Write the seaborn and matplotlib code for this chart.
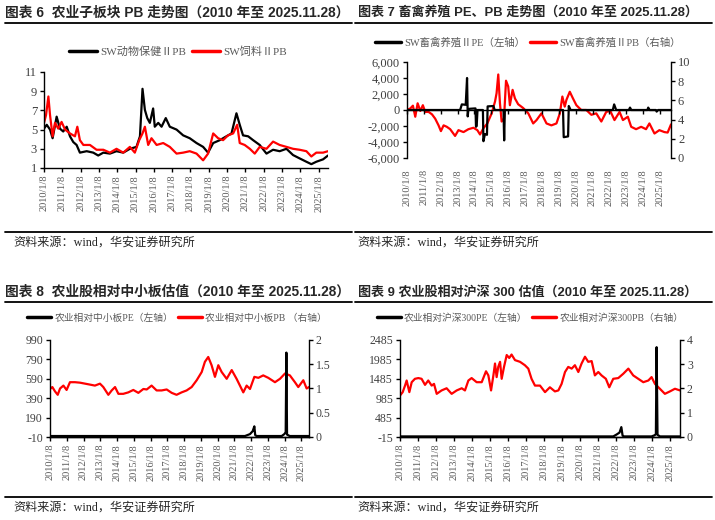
import matplotlib
matplotlib.use("Agg")
import matplotlib.pyplot as plt
from matplotlib.lines import Line2D
from matplotlib.ticker import FuncFormatter
import seaborn as sns

# ---- 数据（按图读取，x 为年份小数）----
years = list(range(2010, 2026))
year_labels = [f"{y}/1/8" for y in years]

# 图表6：SW动物保健II PB / SW饲料II PB
health_year = [2010.00, 2010.15, 2010.33, 2010.47, 2010.69, 2010.87, 2011.05, 2011.24, 2011.42, 2011.60,
               2011.78, 2011.96, 2012.33, 2012.69, 2012.96, 2013.24, 2013.60, 2013.96, 2014.33, 2014.69,
               2015.05, 2015.24, 2015.38, 2015.51, 2015.64, 2015.78, 2015.96, 2016.05, 2016.24, 2016.42,
               2016.65, 2016.87, 2017.24, 2017.60, 2017.96, 2018.33, 2018.69, 2018.96, 2019.24, 2019.60,
               2019.96, 2020.24, 2020.51, 2020.69, 2020.87, 2021.15, 2021.42, 2021.78, 2022.15, 2022.51,
               2022.87, 2023.24, 2023.60, 2023.96, 2024.33, 2024.60, 2024.87, 2025.24, 2025.51]
health_pb = [5.1, 5.5, 5.0, 4.1, 6.35, 5.1, 4.8, 5.3, 4.3, 3.7,
             3.4, 2.6, 2.75, 2.6, 2.3, 2.6, 2.5, 2.75, 2.6, 3.0,
             3.2, 4.3, 9.25, 7.05, 6.2, 5.7, 7.2, 5.3, 5.7, 5.3,
             6.2, 5.3, 5.0, 4.4, 4.1, 3.6, 3.2, 2.6, 3.6, 3.9,
             4.3, 4.6, 6.7, 5.5, 4.4, 4.3, 3.9, 3.4, 2.5, 2.9,
             2.75, 3.0, 2.35, 2.0, 1.65, 1.4, 1.65, 1.9, 2.3]
feed_year = [2010.00, 2010.11, 2010.24, 2010.33, 2010.47, 2010.60, 2010.78, 2010.96, 2011.15, 2011.42,
             2011.69, 2011.82, 2011.96, 2012.15, 2012.51, 2012.87, 2013.24, 2013.60, 2013.96, 2014.33,
             2014.69, 2014.96, 2015.20, 2015.38, 2015.51, 2015.69, 2015.87, 2016.15, 2016.51, 2016.87,
             2017.24, 2017.60, 2017.96, 2018.33, 2018.69, 2018.96, 2019.24, 2019.51, 2019.78, 2020.05,
             2020.33, 2020.55, 2020.69, 2020.96, 2021.24, 2021.51, 2021.78, 2022.15, 2022.51, 2022.87,
             2023.24, 2023.60, 2023.96, 2024.33, 2024.60, 2024.87, 2025.24, 2025.51]
feed_pb = [5.7, 6.5, 8.45, 6.5, 4.3, 5.7, 5.1, 5.8, 5.0, 4.6,
           4.3, 5.3, 3.9, 3.4, 3.4, 2.9, 2.9, 2.6, 3.0, 2.6,
           3.2, 2.6, 3.9, 4.6, 5.3, 3.4, 4.1, 3.4, 3.6, 3.2,
           2.5, 2.6, 2.75, 2.5, 1.8, 2.5, 4.6, 4.1, 3.9, 4.4,
           4.6, 5.5, 3.6, 3.4, 3.0, 2.5, 3.2, 3.0, 3.75, 3.4,
           3.2, 3.0, 2.9, 2.75, 2.2, 2.6, 2.6, 2.75]

# 图表7：SW畜禽养殖II PE（左轴）/ PB（右轴）
breed_pe_year = [2010.00, 2013.15, 2013.25, 2013.48, 2013.56, 2013.60, 2013.64, 2013.70, 2014.06, 2014.09,
                 2014.13, 2014.18, 2014.50, 2014.53, 2014.62, 2014.74, 2014.78, 2015.12, 2015.20, 2015.72,
                 2015.76, 2015.80, 2019.25, 2019.29, 2019.55, 2019.59, 2019.70, 2022.20, 2022.28, 2022.40,
                 2023.15, 2023.22, 2023.30, 2024.25, 2024.30, 2024.38, 2024.75, 2024.80, 2024.88, 2025.65]
breed_pe = [0, 0, 700, 650, 4000, -800, 100, 150, 200, -2100,
            -2000, 0, 0, -3900, -3000, -3100, 450, 500, 0, 0,
            -3800, 0, 0, -3400, -3300, 500, 0, 0, 700, 0,
            0, 300, 0, 0, 300, 0, 0, -200, 0, 0]
breed_pb_year = [2010.00, 2010.20, 2010.35, 2010.49, 2010.63, 2010.79, 2010.94, 2011.08, 2011.28, 2011.48,
                 2011.67, 2011.87, 2012.01, 2012.17, 2012.36, 2012.56, 2012.85, 2013.05, 2013.35, 2013.64,
                 2013.94, 2014.17, 2014.33, 2014.53, 2014.76, 2015.02, 2015.22, 2015.31, 2015.41, 2015.51,
                 2015.61, 2015.75, 2015.87, 2016.00, 2016.10, 2016.26, 2016.40, 2016.59, 2016.89, 2017.19,
                 2017.48, 2017.68, 2017.97, 2018.27, 2018.56, 2018.86, 2019.06, 2019.21, 2019.35, 2019.45,
                 2019.65, 2019.84, 2020.04, 2020.33, 2020.63, 2020.93, 2021.22, 2021.52, 2021.81, 2022.05,
                 2022.30, 2022.60, 2022.80, 2023.09, 2023.29, 2023.58, 2023.88, 2024.17, 2024.37, 2024.67,
                 2024.96, 2025.26, 2025.45, 2025.65]
breed_pb = [5.0, 5.17, 5.45, 4.3, 5.7, 4.9, 5.5, 4.8, 4.8, 4.55,
            4.1, 3.4, 2.8, 3.4, 3.25, 3.0, 2.3, 2.9, 2.7, 3.0,
            3.15, 2.9, 2.45, 3.1, 3.6, 4.65, 5.9, 6.75, 8.7, 5.7,
            3.8, 4.1, 8.05, 7.45, 5.5, 7.1, 6.2, 5.6, 5.2, 4.65,
            3.6, 3.95, 4.65, 3.6, 3.4, 3.6, 4.65, 6.4, 5.35, 6.05,
            6.9, 6.2, 5.5, 5.0, 5.0, 4.5, 4.65, 3.8, 4.8, 4.9,
            3.95, 4.8, 3.95, 4.3, 3.25, 3.0, 3.25, 3.0, 3.6, 2.55,
            2.9, 2.7, 2.65, 3.5]

# 图表8：农业相对中小板 PE（左轴）/ PB（右轴）
sme_pe_year = [2010.00, 2021.63, 2021.93, 2022.09, 2022.19, 2022.24, 2022.32,
               2023.82, 2023.98, 2024.06, 2024.10, 2024.14, 2024.30, 2025.45]
sme_pe = [0, 0, 20, 50, 100, 10, 0, 0, 20, 40, 860, 15, 0, 0]
sme_pb_year = [2010.00, 2010.14, 2010.30, 2010.46, 2010.60, 2010.80, 2010.99, 2011.19, 2011.49, 2011.79,
               2012.09, 2012.39, 2012.68, 2012.98, 2013.18, 2013.48, 2013.68, 2013.88, 2014.08, 2014.37,
               2014.67, 2014.97, 2015.27, 2015.57, 2015.77, 2016.06, 2016.36, 2016.66, 2016.96, 2017.26,
               2017.55, 2017.85, 2018.15, 2018.45, 2018.75, 2019.05, 2019.24, 2019.44, 2019.64, 2019.84,
               2020.04, 2020.24, 2020.54, 2020.84, 2021.13, 2021.33, 2021.53, 2021.73, 2021.93, 2022.19,
               2022.43, 2022.72, 2023.02, 2023.42, 2023.72, 2024.02, 2024.31, 2024.61, 2024.81, 2025.11,
               2025.31, 2025.45]
sme_pb = [0.99, 1.03, 0.94, 0.87, 1.0, 1.06, 0.97, 1.13, 1.13, 1.12,
          1.1, 1.08, 1.06, 1.1, 1.03, 0.87, 0.96, 1.03, 0.89, 0.89,
          0.92, 0.97, 0.91, 0.99, 0.98, 1.06, 0.96, 0.96, 0.98, 0.91,
          0.87, 0.92, 0.96, 1.03, 1.17, 1.34, 1.55, 1.65, 1.48, 1.24,
          1.48, 1.34, 1.2, 1.38, 1.2, 1.06, 0.92, 1.06, 0.99, 1.24,
          1.22, 1.27, 1.22, 1.13, 1.2, 1.31, 1.27, 1.13, 1.03, 1.17,
          1.0, 1.03]

# 图表9：农业相对沪深300 PE（左轴）/ PB（右轴）
hs_pe_year = [2010.00, 2021.85, 2022.04, 2022.20, 2022.30, 2022.37, 2022.45,
              2023.98, 2024.15, 2024.22, 2024.26, 2024.31, 2024.45, 2025.56]
hs_pe = [0, 0, 50, 100, 240, 20, 0, 0, 30, 60, 2300, 40, 0, 0]
hs_pb_year = [2010.00, 2010.15, 2010.28, 2010.37, 2010.52, 2010.65, 2010.83, 2011.02, 2011.20, 2011.39,
              2011.57, 2011.76, 2011.89, 2012.04, 2012.31, 2012.59, 2012.87, 2013.15, 2013.43, 2013.61,
              2013.80, 2013.98, 2014.26, 2014.54, 2014.78, 2014.91, 2015.06, 2015.19, 2015.28, 2015.37,
              2015.46, 2015.56, 2015.65, 2015.78, 2015.93, 2016.07, 2016.20, 2016.39, 2016.67, 2016.94,
              2017.13, 2017.31, 2017.50, 2017.78, 2018.06, 2018.33, 2018.61, 2018.80, 2018.98, 2019.17,
              2019.35, 2019.54, 2019.72, 2019.91, 2020.09, 2020.28, 2020.46, 2020.65, 2020.83, 2021.02,
              2021.20, 2021.44, 2021.63, 2021.85, 2022.13, 2022.41, 2022.69, 2022.96, 2023.24, 2023.52,
              2023.80, 2023.98, 2024.17, 2024.44, 2024.72, 2025.00, 2025.28, 2025.56]
hs_pb = [1.71, 1.85, 2.12, 2.33, 1.85, 2.26, 2.4, 2.43, 2.4, 2.15,
         2.33, 2.12, 2.19, 1.78, 1.92, 2.01, 1.78, 1.92, 2.01, 1.92,
         2.33, 2.43, 2.26, 2.26, 2.71, 2.54, 1.92, 2.54, 3.03, 2.47,
         2.89, 3.1, 2.4, 2.89, 3.38, 3.26, 3.4, 3.17, 3.1, 2.96,
         2.82, 2.4, 2.12, 2.12, 1.85, 2.05, 1.88, 1.92, 2.19, 2.68,
         2.89, 2.82, 2.96, 2.68, 3.03, 3.31, 3.1, 3.13, 2.54, 2.68,
         2.54, 2.4, 2.05, 2.4, 2.43, 2.61, 2.82, 2.54, 2.4, 2.26,
         2.33, 2.47, 2.19, 1.99, 1.78, 1.88, 1.99, 1.92]

RED = "#FF0000"
SERIF = ["Liberation Serif", "Noto Sans CJK SC"]
BOLD = ["Liberation Sans", "Noto Sans CJK SC"]

sns.set_style("ticks")
plt.rcParams["font.family"] = SERIF
plt.rcParams["axes.unicode_minus"] = False

W, H = 715, 520
fig = plt.figure(figsize=(W / 100, H / 100), dpi=100)


def px_axes(l, t, r, b):
    return fig.add_axes([l / W, 1 - b / H, (r - l) / W, (b - t) / H])


def hline(x0, x1, y, lw=1.3):
    fig.add_artist(Line2D([x0 / W, x1 / W], [1 - y / H, 1 - y / H], color="black",
                          lw=lw, transform=fig.transFigure))


def header(x, y, text, size=9.9):
    fig.text(x / W, 1 - y / H, text, fontsize=size, fontweight="bold",
             family=BOLD, va="center", ha="left")


def source(x, y):
    fig.text(x / W, 1 - y / H, "资料来源：wind，华安证券研究所", fontsize=8.7,
             family=SERIF, va="center", ha="left")


def line(ax, x, y, color):
    sns.lineplot(x=x, y=y, ax=ax, color=color, lw=1.6, sort=False, estimator=None)


def style_axis(ax, size):
    ax.tick_params(axis="both", direction="out", length=3, width=1, color="black")
    ax.tick_params(axis="y", labelsize=size, labelcolor="#404040", pad=2)
    for s in ax.spines.values():
        s.set_linewidth(1)
        s.set_color("black")


def date_ticks(ax, xmax, pad=2):
    ax.set_xlim(2010, xmax)
    ax.set_xticks(years)
    ax.set_xticklabels(year_labels, rotation=90, fontsize=7.5, color="#595959")
    ax.tick_params(axis="x", pad=pad)
    ax.set_xlabel("")
    ax.set_ylabel("")


def make_legend(ax, labels, cx, cy, size):
    handles = [Line2D([], [], color="black", lw=2.5), Line2D([], [], color=RED, lw=2.5)]
    ax.legend(handles, labels, loc="center", bbox_to_anchor=(cx / W, 1 - cy / H),
              bbox_transform=fig.transFigure, ncol=2, frameon=False, fontsize=size,
              handlelength=2.5, handletextpad=0.3, columnspacing=0.5, labelcolor="#595959")


# ---- 图表6 ----
header(5, 12.5, "图表 6  农业子板块 PB 走势图（2010 年至 2025.11.28）")
hline(5, 352, 23)
ax1 = px_axes(44, 72, 328, 168)
line(ax1, health_year, health_pb, "black")
line(ax1, feed_year, feed_pb, RED)
ax1.set_ylim(1, 11)
ax1.set_yticks([1, 3, 5, 7, 9, 11])
sns.despine(ax=ax1)
style_axis(ax1, 9)
date_ticks(ax1, 2025.51)
make_legend(ax1, ["SW动物保健ⅡPB", "SW饲料ⅡPB"], 178, 52, 8)
hline(5, 352, 232)
source(13, 243)

# ---- 图表7 ----
header(358, 12.5, "图表 7 畜禽养殖 PE、PB 走势图（2010 年至 2025.11.28）", 9.4)
hline(355, 712, 23)
ax2 = px_axes(407, 62, 671, 158)
ax2r = ax2.twinx()
line(ax2r, breed_pb_year, breed_pb, RED)
line(ax2, breed_pe_year, breed_pe, "black")
ax2.set_zorder(ax2r.get_zorder() + 1)
ax2.patch.set_visible(False)
ax2.set_ylim(-6000, 6000)
ax2.set_yticks(range(-6000, 6001, 2000))
ax2.yaxis.set_major_formatter(FuncFormatter(lambda v, p: f"{v:,.0f}"))
ax2r.set_ylim(0, 10)
ax2r.set_yticks(range(0, 11, 2))
for a in (ax2, ax2r):
    a.spines["top"].set_visible(False)
ax2.spines["right"].set_visible(False)
ax2r.spines["left"].set_visible(False)
ax2r.spines["bottom"].set_visible(False)
ax2.spines["bottom"].set_position(("data", 0))
style_axis(ax2, 9)
style_axis(ax2r, 9)
ax2r.set_ylabel("")
date_ticks(ax2, 2025.65)
ax2.tick_params(axis="x", labelbottom=False)
sec2 = ax2.secondary_xaxis("bottom")
sec2.set_xticks(years)
sec2.set_xticklabels(year_labels, rotation=90, fontsize=7.5, color="#595959")
sec2.tick_params(axis="x", length=0, pad=8)
sec2.spines["bottom"].set_visible(False)
make_legend(ax2, ["SW畜禽养殖ⅡPE（左轴）", "SW畜禽养殖ⅡPB（右轴）"], 528, 42, 7.5)
hline(355, 712, 232)
source(357, 243)

# ---- 图表8 ----
header(5, 292, "图表 8  农业股相对中小板估值（2010 年至 2025.11.28）")
hline(5, 352, 302)
ax3 = px_axes(50, 340, 309, 437)
ax3r = ax3.twinx()
line(ax3r, sme_pb_year, sme_pb, RED)
line(ax3, sme_pe_year, sme_pe, "black")
ax3.set_zorder(ax3r.get_zorder() + 1)
ax3.patch.set_visible(False)
ax3.set_ylim(-10, 990)
ax3.set_yticks([-10, 190, 390, 590, 790, 990])
ax3r.set_ylim(0, 2)
ax3r.set_yticks([0, 0.5, 1, 1.5, 2])
ax3r.yaxis.set_major_formatter(FuncFormatter(lambda v, p: f"{v:g}"))
for a in (ax3, ax3r):
    a.spines["top"].set_visible(False)
ax3.spines["right"].set_visible(False)
ax3r.spines["left"].set_visible(False)
style_axis(ax3, 8.5)
style_axis(ax3r, 8.5)
ax3r.set_ylabel("")
date_ticks(ax3, 2025.45)
make_legend(ax3, ["农业相对中小板PE（左轴）", "农业相对中小板PB （右轴）"], 177, 318, 7)
hline(5, 352, 497)
source(13, 508)

# ---- 图表9 ----
header(358, 292, "图表 9 农业股相对沪深 300 估值（2010 年至 2025.11.28）", 9.4)
hline(355, 712, 302)
ax4 = px_axes(400, 340, 680, 437)
ax4r = ax4.twinx()
line(ax4r, hs_pb_year, hs_pb, RED)
line(ax4, hs_pe_year, hs_pe, "black")
ax4.set_zorder(ax4r.get_zorder() + 1)
ax4.patch.set_visible(False)
ax4.set_ylim(-15, 2485)
ax4.set_yticks([-15, 485, 985, 1485, 1985, 2485])
ax4r.set_ylim(0, 4)
ax4r.set_yticks([0, 1, 2, 3, 4])
for a in (ax4, ax4r):
    a.spines["top"].set_visible(False)
ax4.spines["right"].set_visible(False)
ax4r.spines["left"].set_visible(False)
style_axis(ax4, 8.5)
style_axis(ax4r, 8.5)
ax4r.set_ylabel("")
date_ticks(ax4, 2025.56)
make_legend(ax4, ["农业相对沪深300PE（左轴）", "农业相对沪深300PB（右轴）"], 530, 318, 7)
hline(355, 712, 497)
source(357, 508)

fig.savefig("out.png", dpi=100)
